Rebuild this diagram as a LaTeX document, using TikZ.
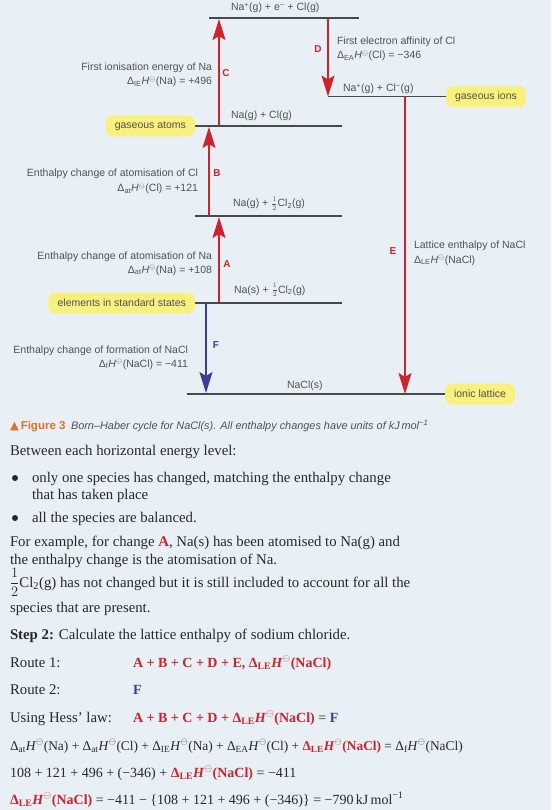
\documentclass[tikz,border=0pt]{standalone}
\usepackage{fontspec}
\setmainfont{Liberation Serif}
\setsansfont{Liberation Sans}
\newfontfamily\symfont{DejaVu Sans}
\usetikzlibrary{arrows.meta,positioning}

\definecolor{pagebg}{RGB}{232,240,245}
\definecolor{levelgray}{RGB}{70,72,75}
\definecolor{labelgray}{RGB}{80,82,85}
\definecolor{textgray}{RGB}{40,40,43}
\definecolor{cyclered}{RGB}{205,35,45}
\definecolor{cycleblue}{RGB}{58,62,150}
\definecolor{tagyellow}{RGB}{249,240,125}
\definecolor{figorange}{RGB}{228,112,35}

\newcommand{\enth}[1]{Δ\textsubscript{#1}\textit{H}\textsuperscript{$\ominus$}}
\newcommand{\redb}[1]{\textbf{\color{cyclered}#1}}
\newcommand{\blueb}[1]{\textbf{\color{cycleblue}#1}}
\newcommand{\halfsmall}{$\frac{\mathstrut 1}{\mathstrut 2}$}

\begin{document}
\begin{tikzpicture}[
		x=1pt, y=-1pt,
		every node/.style={inner sep=0pt, outer sep=0pt, text=labelgray},
		level/.style={draw=levelgray, line width=1.5pt},
		species/.style={anchor=base west, font=\sffamily\fontsize{10.5}{12}\selectfont},
		changeleft/.style={anchor=base east, font=\sffamily\fontsize{10.5}{12}\selectfont},
		changeright/.style={anchor=base west, font=\sffamily\fontsize{10.5}{12}\selectfont},
		tag/.style={
			fill=tagyellow, rounded corners=7pt,
			inner xsep=9pt, minimum height=21pt,
			font=\sffamily\fontsize{10.5}{12}\selectfont
		},
		uparrow/.style={draw=cyclered, line width=1.4pt, -{Stealth[length=21pt,width=13pt,inset=4pt]}},
		formarrow/.style={uparrow, draw=cycleblue},
		letter/.style={font=\sffamily\bfseries\fontsize{10}{12}\selectfont, text=cyclered},
		body/.style={anchor=base west, text=textgray, font=\fontsize{14.8}{17}\selectfont},
		formula/.style={body, font=\fontsize{14}{17}\selectfont},
		bullet/.style={fill=textgray}
		]
		
		\fill[pagebg] (0,0) rectangle (551,810);
		\useasboundingbox (0,0) rectangle (551,810);
		
		\coordinate (top-w) at (209,18);   \coordinate (top-e) at (359,18);
		\coordinate (ions-w) at (328,96.5); \coordinate (ions-e) at (446,96.5);
		\coordinate (atoms-w) at (195,126); \coordinate (atoms-e) at (342,126);
		\coordinate (half-w) at (195,216);  \coordinate (half-e) at (342,216);
		\coordinate (std-w) at (195,303);   \coordinate (std-e) at (342,303);
		\coordinate (nacl-w) at (187,394);  \coordinate (nacl-e) at (445,394);
		
		\foreach \lv in {top,ions,atoms,half,std,nacl}
			\draw[level] (\lv-w) -- (\lv-e);
		
		\node[species] (top) at (231,11) {Na\textsuperscript{+}(g) + e\textsuperscript{−} + Cl(g)};
		\node[species] (ions) at (343,92) {Na\textsuperscript{+}(g) + Cl\textsuperscript{−}(g)};
		\node[species] (atoms) at (231,119) {Na(g) + Cl(g)};
		\node[species] (half) at (233,207) {Na(g) + \halfsmall Cl\textsubscript{2}(g)};
		\node[species] (std) at (234,293) {Na(s) + \halfsmall Cl\textsubscript{2}(g)};
		\node[species] (nacl) at (287,388) {NaCl(s)};
		
		\node[tag, anchor=east] (atoms-tag) at (atoms-w) {gaseous atoms};
		\node[tag, anchor=west] (ions-tag) at (ions-e) {gaseous ions};
		\node[tag, anchor=east] (std-tag) at (std-w) {elements in standard states};
		\node[tag, anchor=west] (nacl-tag) at (nacl-e) {ionic lattice};
		
		\coordinate (A0) at (219,303); \coordinate (A1) at (219,217);
		\coordinate (B0) at (209,216); \coordinate (B1) at (209,127);
		\coordinate (C0) at (219,126); \coordinate (C1) at (219,19);
		\coordinate (D0) at (328,18);  \coordinate (D1) at (328,96.5);
		\coordinate (E0) at (405,96.5); \coordinate (E1) at (405,394);
		\coordinate (F0) at (206,303); \coordinate (F1) at (206,393);
		
		\foreach \ch in {A,B,C,D,E}
			\draw[uparrow] (\ch0) -- (\ch1);
		\draw[formarrow] (F0) -- (F1);
		
		\node[letter] (A) at (227,264) {A};
		\node[letter] (B) at (217,173) {B};
		\node[letter] (C) at (226,73) {C};
		\node[letter] (D) at (318,49) {D};
		\node[letter] (E) at (393,251) {E};
		\node[letter, text=cycleblue] (F) at (216,345) {F};
		
		\node[changeleft] (ie-name) at (212,71) {First ionisation energy of Na};
		\node[changeleft] (ie-value) at (212,85) {\enth{IE}(Na) = +496};
		\node[changeright] (ea-name) at (337,45) {First electron affinity of Cl};
		\node[changeright] (ea-value) at (337,59) {\enth{EA}(Cl) = −346};
		\node[changeleft] (atcl-name) at (198,177) {Enthalpy change of atomisation of Cl};
		\node[changeleft] (atcl-value) at (198,192) {\enth{at}(Cl) = +121};
		\node[changeleft] (atna-name) at (212,259) {Enthalpy change of atomisation of Na};
		\node[changeleft] (atna-value) at (212,273) {\enth{at}(Na) = +108};
		\node[changeleft] (form-name) at (188,353) {Enthalpy change of formation of NaCl};
		\node[changeleft] (form-value) at (188,367) {\enth{f}(NaCl) = −411};
		\node[changeright] (le-name) at (414,248) {Lattice enthalpy of NaCl};
		\node[changeright] (le-value) at (414,263) {\enth{LE}(NaCl)};
		
		\node[anchor=base west, text=figorange, font=\sffamily\bfseries\fontsize{11.5}{13}\selectfont] (fig-num) at (10,429) {{\symfont ▲}\,Figure 3};
		\node[anchor=base west, font=\sffamily\itshape\fontsize{10.9}{13}\selectfont] (fig-cap) at (71,429) {Born–Haber cycle for NaCl(s). All enthalpy changes have units of kJ\,mol\textsuperscript{−1}};
		
		\node[body] (t1) at (10,455) {Between each horizontal energy level:};
		\fill[bullet] (15,478) circle (3pt);
		\node[body] (t2) at (32,482) {only one species has changed, matching the enthalpy change};
		\node[body] (t3) at (32,499) {that has taken place};
		\fill[bullet] (15,518) circle (3pt);
		\node[body] (t4) at (32,522) {all the species are balanced.};
		\node[body] (t5) at (10,546) {For example, for change \redb{A}, Na(s) has been atomised to Na(g) and};
		\node[body] (t6) at (10,564) {the enthalpy change is the atomisation of Na.};
		\node[body] (t7) at (10,587) {$\displaystyle\frac{1}{2}$Cl\textsubscript{2}(g) has not changed but it is still included to account for all the};
		\node[body] (t8) at (10,612) {species that are present.};
		\node[body] (t9) at (10,639) {\textbf{Step 2:} Calculate the lattice enthalpy of sodium chloride.};
		\node[body] (r1) at (10,667) {Route 1:};
		\node[formula] (r1-sum) at (133,667) {\redb{A + B + C + D + E, \enth{LE}(NaCl)}};
		\node[body] (r2) at (10,694) {Route 2:};
		\node[formula] (r2-sum) at (133,694) {\blueb{F}};
		\node[body] (hess) at (10,722) {Using Hess’ law:};
		\node[formula] (hess-sum) at (133,722) {\redb{A + B + C + D + \enth{LE}(NaCl)} = \blueb{F}};
		\node[formula, font=\fontsize{13.4}{17}\selectfont] (s1) at (10,750) {\enth{at}(Na) + \enth{at}(Cl) + \enth{IE}(Na) + \enth{EA}(Cl) + \redb{\enth{LE}(NaCl)} = \enth{f}(NaCl)};
		\node[formula] (s2) at (10,777) {108 + 121 + 496 + (−346) + \redb{\enth{LE}(NaCl)} = −411};
		\node[formula] (s3) at (10,804) {\redb{\enth{LE}(NaCl)} = −411 − \{108 + 121 + 496 + (−346)\} = −790\,kJ\,mol\textsuperscript{−1}};
	\end{tikzpicture}
\end{document}
